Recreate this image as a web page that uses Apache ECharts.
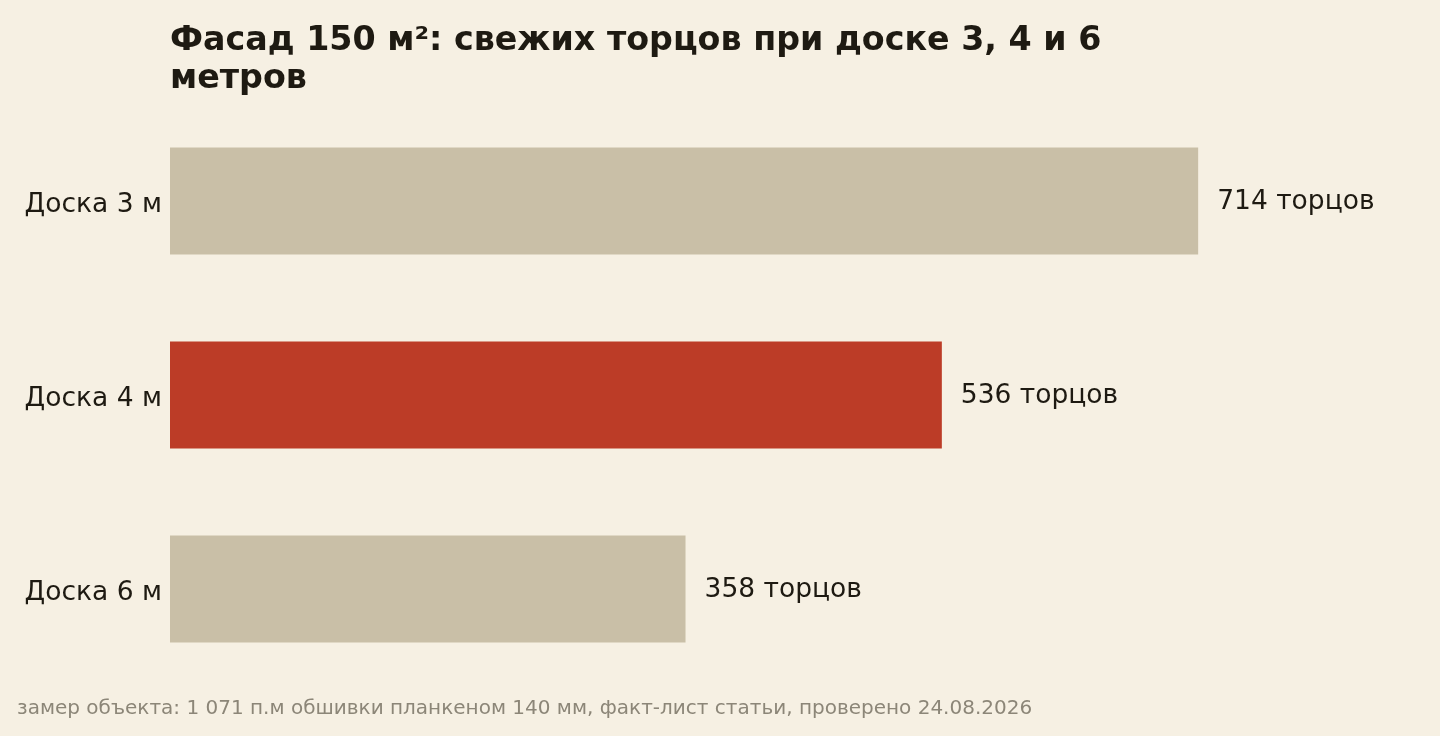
<!DOCTYPE html>
<html lang="ru">
  <head>
    <meta charset="UTF-8" />
    <title>Фасад 150 м²</title>
    <script src="https://cdn.jsdelivr.net/npm/echarts@6.0.0/dist/echarts.min.js"></script>
    <style>
      html, body { margin: 0; padding: 0; background: #f6f0e3; }
    </style>
  </head>
  <body>
    <div id="main" style="width: 1440px; height: 736px"></div>
    <script type="text/javascript">
      // данные
      var categories = ["Доска 3 м", "Доска 4 м", "Доска 6 м"];
      var values = [714, 536, 358];
      var highlight = "Доска 4 м";

      var font = "DejaVu Sans";
      var myChart = echarts.init(document.getElementById("main"));

      var option = {
        backgroundColor: "#f6f0e3",
        animation: false,
        title: {
          text: "Фасад 150 м²: свежих торцов при доске 3, 4 и 6\nметров",
          left: 170,
          top: 22,
          padding: 0,
          textStyle: {
            fontFamily: font,
            fontSize: 33.3,
            fontWeight: "bold",
            color: "#1e1a12",
            lineHeight: 38,
          },
        },
        graphic: [
          {
            type: "text",
            left: 17,
            top: 699,
            style: {
              text: "замер объекта: 1 071 п.м обшивки планкеном 140 мм, факт-лист статьи, проверено 24.08.2026",
              font: "20px '" + font + "'",
              fill: "#8c8678",
            },
          },
        ],
        grid: {
          left: 170,
          right: 118,
          top: 104,
          bottom: 50,
        },
        xAxis: {
          type: "value",
          min: 0,
          max: 800,
          show: false,
        },
        yAxis: {
          type: "category",
          inverse: true,
          data: categories,
          axisLine: { show: false },
          axisTick: { show: false },
          axisLabel: {
            margin: 8,
            formatter: function (v) {
              return "{c|" + v + "}";
            },
            rich: {
              c: {
                fontFamily: font,
                fontSize: 26.5,
                color: "#1e1a12",
                padding: [8, 0, 0, 0],
              },
            },
          },
        },
        series: [
          {
            type: "bar",
            barWidth: 107,
            data: values.map(function (v, i) {
              return {
                value: v,
                itemStyle: {
                  color: categories[i] === highlight ? "#bc3c27" : "#c9bfa7",
                },
              };
            }),
            label: {
              show: true,
              position: "right",
              distance: 19,
              fontFamily: font,
              fontSize: 26.5,
              color: "#1e1a12",
              formatter: function (p) {
                return "{v|" + p.value + " торцов}";
              },
              rich: {
                v: {
                  fontFamily: font,
                  fontSize: 26.5,
                  color: "#1e1a12",
                  padding: [2, 0, 0, 0],
                },
              },
            },
          },
        ],
      };
      myChart.setOption(option);
    </script>
  </body>
</html>
